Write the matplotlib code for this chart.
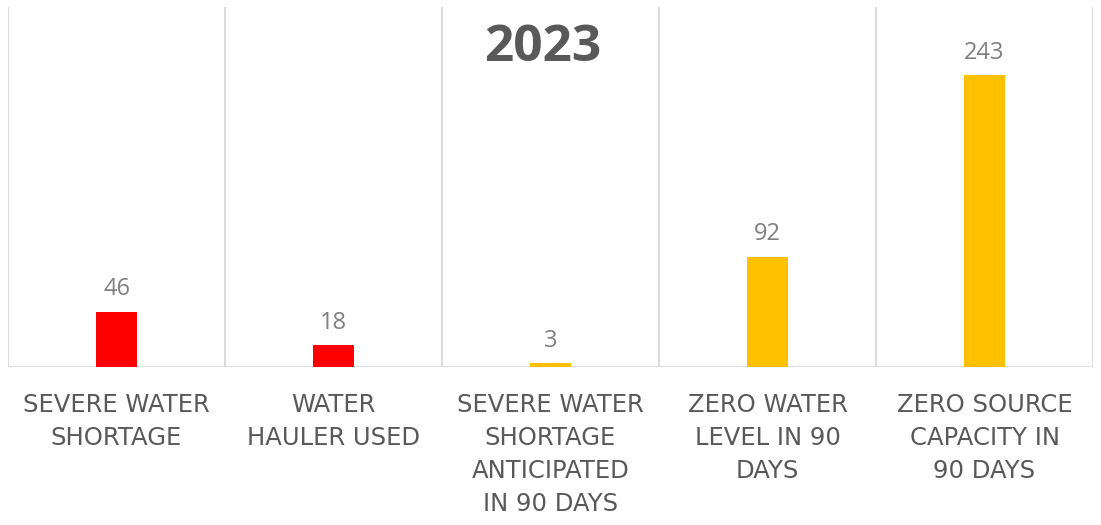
import matplotlib
matplotlib.use("Agg")
import matplotlib.pyplot as plt
from matplotlib.transforms import blended_transform_factory

categories = ["SEVERE WATER\nSHORTAGE", "WATER\nHAULER USED",
              "SEVERE WATER\nSHORTAGE\nANTICIPATED\nIN 90 DAYS",
              "ZERO WATER\nLEVEL IN 90\nDAYS", "ZERO SOURCE\nCAPACITY IN\n90 DAYS"]
values = [46, 18, 3, 92, 243]
colors = ["#ff0000", "#ff0000", "#ffc000", "#ffc000", "#ffc000"]
title = "2023"

plt.rcParams['font.family'] = ['Open Sans', 'DejaVu Sans']

fig = plt.figure(figsize=(11.01, 5.25), dpi=100)
ax = fig.add_axes([8 / 1101, (525 - 367) / 525, 1085 / 1101, 360 / 525])

x = list(range(len(values)))
ax.bar(x, values, width=0.185, color=colors, zorder=3)
ax.set_xlim(-0.5, len(values) - 0.5)
ax.set_ylim(0, 300)

for i in range(len(values) + 1):
    ax.axvline(i - 0.5, color="#d9d9d9", lw=1.3, zorder=1)
ax.axhline(0, color="#d9d9d9", lw=2, zorder=2)

for xi, v in zip(x, values):
    ax.text(xi, v + 9, str(v), ha="center", va="bottom", fontsize=17, color="#7f7f7f")

# wider font to get closer to the spaced-out category labels
trans = blended_transform_factory(ax.transData, ax.transAxes)
for xi, lab in zip(x, categories):
    ax.text(xi, -0.072, lab, transform=trans, ha="center", va="top",
            fontsize=17.5, color="#595959", linespacing=1.47, multialignment="center",
            family=["DejaVu Sans"])

ax.text(0.493, 0.955, title, transform=ax.transAxes, ha="center", va="top",
        fontsize=37, fontweight="bold", color="#595959")

for s in ax.spines.values():
    s.set_visible(False)
ax.set_xticks([])
ax.set_yticks([])

fig.savefig("out.png", dpi=100)
